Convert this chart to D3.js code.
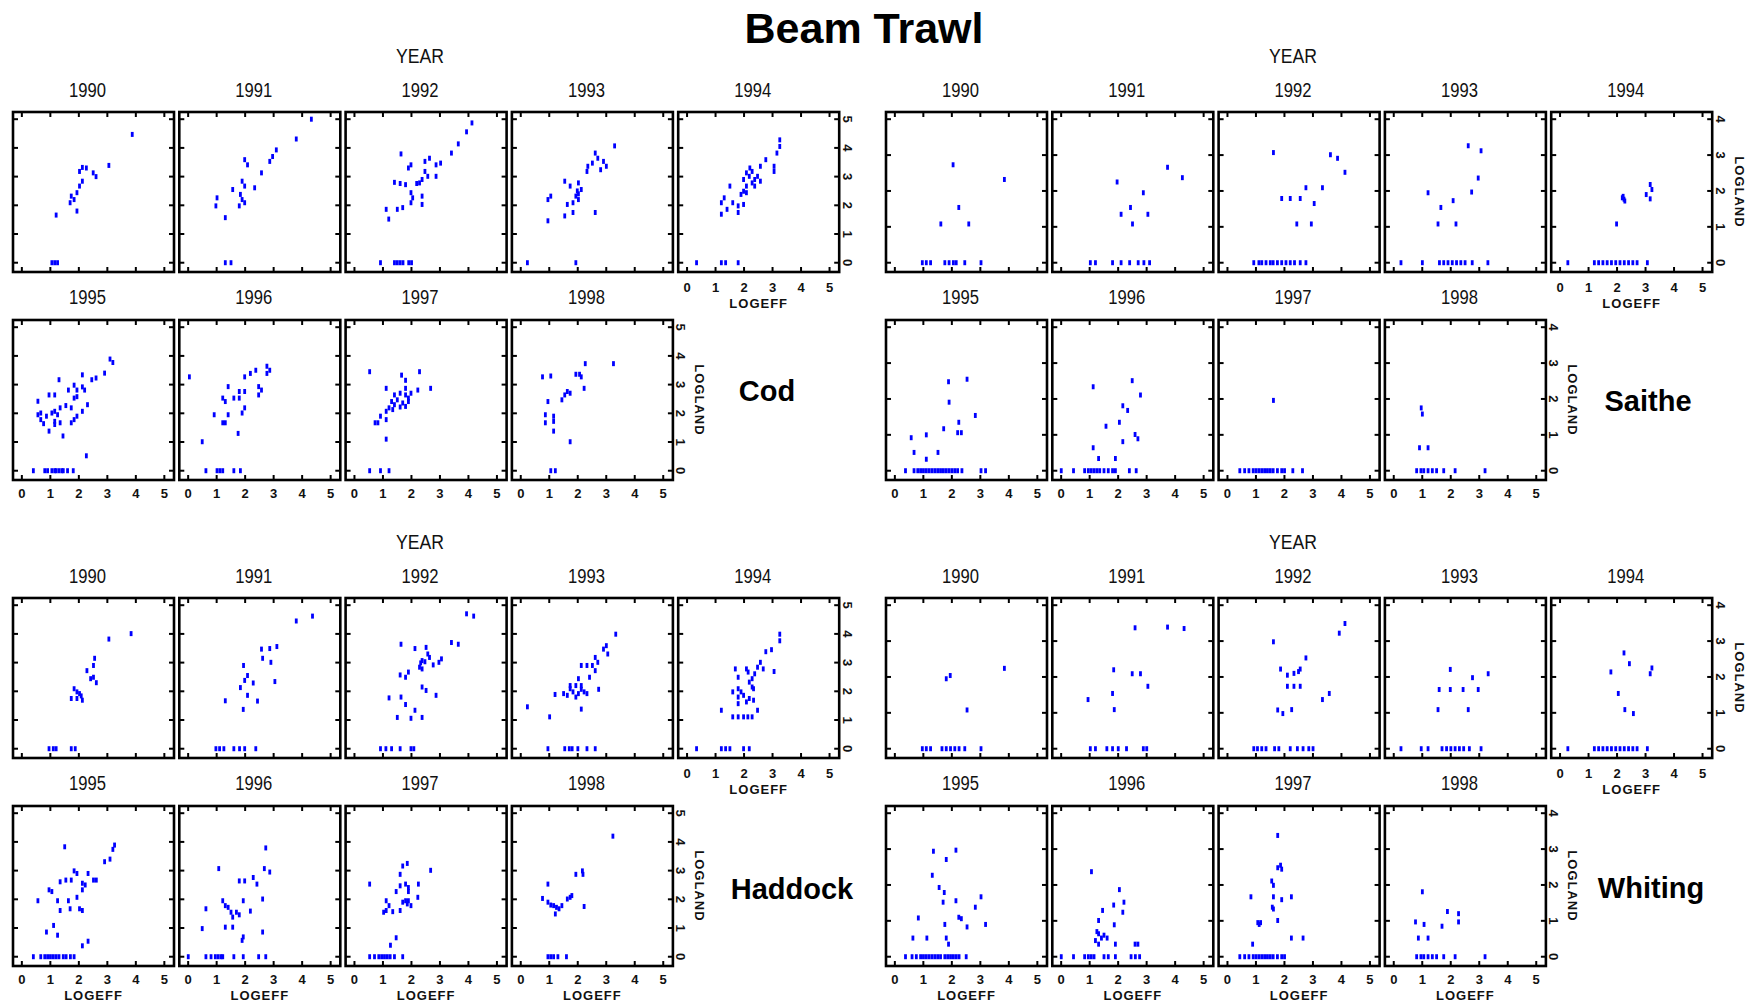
<!DOCTYPE html>
<html>
<head>
<meta charset="utf-8">
<script src="https://d3js.org/d3.v7.min.js"></script>
<style>
  body { margin: 0; background: #fff; }
  .sm { font-family: "Liberation Sans Narrow", "Arial Narrow", sans-serif; fill: #111; }
</style>
</head>
<body>
<script>
var width = 1755;
var height = 1004;

// years shown in the nine panels of each species block
var years = [1990, 1991, 1992, 1993, 1994, 1995, 1996, 1997, 1998];
var xTicks = [0, 1, 2, 3, 4, 5];
var yTicksBig = [0, 1, 2, 3, 4, 5];
var yTicksSmall = [0, 1, 2, 3, 4];

// [LOGEFF, LOGLAND] points, one list per year
var cod = [
  [[3.87,4.47],[3.05,3.39],[2.12,3.32],[2.26,3.3],[2.02,3.18],[2.5,3.13],[2.6,3.0],[2.12,2.84],[2.02,2.67],[1.73,2.32],[1.83,2.2],[1.93,2.44],[1.69,2.09],[1.93,1.8],[1.2,1.66],[1.05,0],[1.15,0],[1.25,0]],
  [[4.32,5.0],[3.79,4.31],[3.09,3.93],[2.96,3.7],[2.86,3.53],[1.98,3.59],[2.08,3.41],[2.57,3.13],[1.89,2.84],[1.98,2.67],[1.56,2.55],[1.83,2.38],[2.33,2.61],[1.89,2.2],[1.98,2.09],[1.79,1.98],[1.01,2.26],[0.97,1.98],[1.3,1.57],[1.3,0],[1.5,0]],
  [[4.12,4.87],[3.93,4.56],[3.64,4.14],[3.4,3.82],[1.63,3.79],[2.63,3.64],[2.47,3.53],[3.02,3.47],[2.86,3.41],[1.98,3.41],[1.89,3.3],[2.47,3.18],[2.57,3.01],[2.37,2.9],[2.28,2.78],[2.86,3.01],[1.4,2.8],[1.6,2.76],[1.79,2.72],[2.18,2.76],[1.98,2.44],[2.04,2.26],[2.37,2.32],[1.98,2.09],[2.37,2.03],[1.11,1.86],[1.5,1.86],[1.69,1.92],[1.2,1.52],[0.91,0],[1.4,0],[1.5,0],[1.6,0],[1.7,0],[1.9,0],[2.0,0]],
  [[3.29,4.07],[2.61,3.82],[2.7,3.64],[2.51,3.47],[2.35,3.36],[2.9,3.53],[3.0,3.36],[2.8,3.24],[2.32,3.18],[1.54,2.84],[1.73,2.67],[2.02,2.78],[2.12,2.55],[1.93,2.32],[2.02,2.2],[1.83,2.09],[1.63,2.03],[1.05,2.32],[0.95,2.2],[2.61,1.75],[1.83,1.75],[1.54,1.63],[0.95,1.46],[2.02,2.4],[1.98,2.5],[0.23,0],[1.93,0]],
  [[3.25,4.28],[3.25,4.05],[3.15,3.82],[2.76,3.59],[2.57,3.36],[3.05,3.36],[3.05,3.18],[2.08,3.13],[2.28,3.18],[2.18,3.01],[2.37,2.9],[1.98,2.9],[2.47,3.01],[2.28,2.78],[2.08,2.67],[2.57,2.84],[2.37,2.67],[1.5,2.67],[1.98,2.49],[1.89,2.38],[2.08,2.44],[1.3,2.26],[1.2,2.09],[1.6,2.09],[1.79,1.98],[1.4,1.86],[1.2,1.69],[1.79,1.75],[1.98,2.03],[2.2,3.3],[0.33,0],[1.2,0],[1.35,0],[1.79,0]],
  [[3.09,3.89],[3.19,3.77],[2.9,3.4],[2.6,3.23],[2.45,3.17],[2.12,3.34],[1.3,3.17],[1.83,2.98],[2.12,2.92],[2.2,2.81],[1.93,2.81],[1.63,2.81],[1.15,2.64],[0.95,2.64],[1.83,2.53],[1.93,2.58],[2.3,2.3],[1.54,2.27],[1.34,2.19],[1.73,2.19],[0.56,2.42],[1.15,2.07],[1.05,2.01],[0.66,2.01],[0.56,1.95],[0.86,1.9],[1.25,1.95],[2.12,2.07],[1.93,1.9],[0.66,1.78],[1.15,1.72],[1.34,1.67],[1.73,1.67],[1.83,1.78],[1.15,1.61],[0.76,1.64],[0.95,1.38],[1.44,1.21],[2.26,0.52],[0.4,0],[0.8,0],[0.9,0],[1.05,0],[1.15,0],[1.2,0],[1.3,0],[1.4,0],[1.45,0],[1.6,0],[1.8,0]],
  [[2.76,3.64],[2.86,3.5],[2.37,3.5],[2.18,3.39],[1.98,3.27],[2.76,3.39],[0.04,3.27],[1.4,2.93],[2.47,2.93],[2.57,2.81],[1.79,2.76],[1.98,2.76],[1.79,2.53],[2.47,2.64],[1.21,2.53],[1.3,2.41],[1.6,2.53],[1.98,2.19],[1.89,2.01],[0.91,1.95],[1.4,1.95],[1.21,1.67],[1.3,1.67],[1.75,1.3],[0.49,1.01],[0.62,0],[1.01,0],[1.11,0],[1.21,0],[1.6,0],[1.83,0]],
  [[0.53,3.45],[1.65,3.33],[1.79,3.15],[2.28,3.45],[2.22,2.81],[2.67,2.87],[1.11,2.87],[1.79,2.87],[1.4,2.64],[1.6,2.7],[1.79,2.64],[1.98,2.7],[1.89,2.53],[1.5,2.47],[1.3,2.41],[1.69,2.36],[1.89,2.41],[1.4,2.3],[1.6,2.22],[1.21,2.19],[1.34,2.13],[1.79,2.24],[1.11,2.07],[0.91,1.9],[1.11,1.78],[0.82,1.67],[0.72,1.67],[1.11,1.1],[0.53,0],[0.91,0],[1.21,0]],
  [[3.25,3.73],[2.26,3.73],[2.06,3.36],[2.12,3.27],[2.22,2.87],[1.93,3.36],[1.05,3.3],[0.76,3.27],[1.63,2.76],[1.54,2.64],[1.73,2.7],[1.44,2.47],[0.95,2.41],[0.86,1.95],[1.15,1.9],[1.15,1.72],[0.86,1.67],[1.15,1.38],[1.73,1.01],[1.05,0],[1.21,0]]
];

var saithe = [
  [[2.04,2.73],[3.84,2.32],[2.24,1.54],[1.61,1.08],[2.59,1.08],[0.96,0],[1.1,0],[1.25,0],[1.75,0],[1.9,0],[2.05,0],[2.15,0],[2.45,0],[3.02,0]],
  [[3.73,2.66],[4.25,2.37],[1.96,2.25],[2.88,1.95],[2.43,1.54],[2.1,1.35],[3.04,1.35],[2.5,1.08],[1.02,0],[1.2,0],[1.8,0],[2.1,0],[2.4,0],[2.7,0],[2.9,0],[3.1,0]],
  [[1.61,3.07],[3.61,3.01],[3.86,2.91],[4.12,2.52],[2.75,2.09],[3.33,2.09],[1.9,1.79],[2.2,1.79],[2.55,1.79],[3.04,1.65],[2.43,1.08],[2.94,1.08],[0.92,0],[1.1,0],[1.2,0],[1.35,0],[1.5,0],[1.6,0],[1.75,0],[1.9,0],[2.05,0],[2.2,0],[2.35,0],[2.55,0],[2.75,0]],
  [[2.61,3.26],[3.06,3.12],[2.96,2.36],[2.73,1.97],[1.2,1.95],[2.08,1.73],[1.65,1.54],[1.55,1.08],[2.18,1.08],[0.25,0],[1.0,0],[1.6,0],[1.75,0],[1.9,0],[2.05,0],[2.2,0],[2.35,0],[2.5,0],[2.75,0],[3.3,0]],
  [[3.16,2.18],[3.22,2.04],[3.02,1.9],[3.16,1.78],[2.24,1.77],[2.18,1.81],[2.27,1.72],[2.21,1.85],[1.98,1.08],[0.27,0],[1.2,0],[1.35,0],[1.5,0],[1.65,0],[1.8,0],[1.95,0],[2.1,0],[2.25,0],[2.4,0],[2.55,0],[2.7,0],[3.06,0]],
  [[1.88,2.48],[2.53,2.55],[1.9,1.91],[2.82,1.54],[2.24,1.35],[2.2,1.06],[2.33,1.06],[1.71,1.17],[0.57,0.92],[1.1,1.0],[0.67,0.51],[1.51,0.51],[1.1,0.32],[0.37,0],[0.67,0],[0.8,0],[0.9,0],[1.0,0],[1.1,0],[1.2,0],[1.3,0],[1.4,0],[1.5,0],[1.6,0],[1.7,0],[1.8,0],[1.9,0],[2.0,0],[2.1,0],[2.2,0],[2.35,0],[3.02,0],[3.18,0]],
  [[2.49,2.51],[1.12,2.34],[2.78,2.11],[2.16,1.81],[2.33,1.68],[2.04,1.35],[1.57,1.24],[2.59,1.01],[2.69,0.89],[2.16,0.81],[1.12,0.64],[1.31,0.34],[1.9,0.34],[0.0,0],[0.43,0],[0.82,0],[0.95,0],[1.05,0],[1.15,0],[1.25,0],[1.35,0],[1.5,0],[1.65,0],[1.8,0],[1.9,0],[2.39,0],[2.63,0]],
  [[1.61,1.96],[0.43,0],[0.6,0],[0.75,0],[0.9,0],[1.0,0],[1.1,0],[1.2,0],[1.3,0],[1.4,0],[1.5,0],[1.6,0],[1.75,0],[1.9,0],[2.0,0],[2.29,0],[2.63,0]],
  [[0.96,1.75],[1.0,1.58],[0.9,0.64],[1.2,0.64],[0.8,0],[0.95,0],[1.05,0],[1.2,0],[1.35,0],[1.5,0],[1.75,0],[2.15,0],[3.2,0]]
];

var haddock = [
  [[3.83,4.01],[3.05,3.82],[2.55,3.15],[2.51,2.9],[2.28,2.72],[2.41,2.44],[2.61,2.3],[2.51,2.49],[1.83,2.09],[1.93,1.98],[1.73,1.75],[2.02,1.92],[2.12,1.69],[1.93,1.75],[2.08,1.84],[0.95,0],[1.1,0],[1.2,0],[1.73,0],[1.87,0]],
  [[4.36,4.62],[3.79,4.45],[3.11,3.56],[2.86,3.49],[2.57,3.47],[2.61,3.15],[2.9,3.01],[3.04,2.34],[1.94,2.9],[2.08,2.55],[2.28,2.29],[1.98,2.38],[1.83,2.13],[2.08,1.86],[2.43,1.66],[1.93,1.37],[1.3,1.67],[0.97,0],[1.1,0],[1.25,0],[1.6,0],[1.8,0],[1.98,0],[2.37,0]],
  [[3.93,4.7],[4.18,4.62],[3.64,3.64],[3.4,3.7],[1.63,3.64],[2.12,3.49],[2.51,3.53],[2.57,3.3],[2.63,3.18],[2.37,3.07],[2.47,3.03],[2.32,2.99],[3.05,3.13],[2.96,3.01],[2.76,2.92],[2.37,2.78],[2.28,2.84],[1.89,2.67],[1.6,2.57],[1.79,2.49],[2.37,2.15],[2.51,2.03],[2.86,1.86],[1.21,1.77],[1.63,1.8],[1.79,1.54],[2.12,1.34],[1.98,1.06],[2.37,1.09],[1.5,1.09],[0.91,0],[1.1,0],[1.3,0],[1.6,0],[1.98,0],[2.08,0]],
  [[3.33,3.99],[3.0,3.59],[2.9,3.47],[3.05,3.3],[2.61,3.18],[2.7,3.01],[2.51,2.9],[2.32,2.9],[2.12,2.9],[2.61,2.72],[2.41,2.49],[2.02,2.44],[1.73,2.2],[1.93,2.2],[2.12,2.2],[1.73,2.09],[2.12,2.07],[1.83,1.98],[2.02,1.92],[2.22,1.98],[2.32,1.92],[1.63,1.86],[1.93,1.8],[2.73,2.07],[1.5,1.92],[1.2,1.89],[2.12,1.38],[1.01,1.11],[0.23,1.46],[0.95,0],[1.54,0],[1.7,0],[1.8,0],[2.0,0],[2.32,0],[2.61,0]],
  [[3.25,3.99],[3.25,3.76],[2.96,3.45],[2.76,3.38],[3.05,2.69],[2.57,3.01],[2.47,2.84],[2.67,2.78],[1.69,2.78],[2.08,2.78],[2.14,2.67],[2.37,2.61],[1.79,2.49],[2.28,2.44],[2.18,2.32],[2.28,2.15],[2.33,2.09],[1.79,2.09],[1.89,1.98],[1.6,1.98],[1.79,1.8],[1.98,1.86],[2.18,1.75],[2.33,1.69],[2.08,1.63],[1.79,1.57],[1.2,1.34],[1.6,1.11],[1.79,1.11],[1.98,1.11],[2.13,1.11],[2.28,1.11],[2.47,1.34],[0.33,0],[1.2,0],[1.35,0],[1.5,0],[1.98,0],[2.18,0]],
  [[3.25,3.89],[3.19,3.74],[3.09,3.4],[2.9,3.31],[1.5,3.83],[1.83,2.99],[1.93,2.9],[1.73,2.67],[1.54,2.67],[1.34,2.61],[1.05,2.27],[0.95,2.33],[2.32,2.9],[2.12,2.56],[2.22,2.5],[2.12,2.33],[2.51,2.67],[2.61,2.67],[0.56,1.95],[1.25,1.95],[1.34,1.61],[1.63,1.95],[1.69,1.67],[1.93,2.07],[2.02,1.67],[2.12,1.61],[1.11,1.09],[0.86,0.86],[1.25,0.75],[2.32,0.54],[2.12,0.38],[0.4,0],[0.66,0],[0.8,0],[0.9,0],[1.0,0],[1.1,0],[1.2,0],[1.3,0],[1.45,0],[1.55,0],[1.7,0],[1.83,0]],
  [[2.72,3.79],[2.67,3.07],[2.86,2.95],[1.07,3.07],[1.79,2.64],[1.98,2.64],[2.28,2.76],[2.41,2.53],[2.61,2.01],[1.93,1.95],[1.21,1.95],[0.62,1.67],[1.3,1.78],[1.4,1.72],[1.5,1.55],[1.69,1.55],[1.79,1.46],[1.56,1.38],[2.18,1.59],[0.49,0.98],[1.3,1.03],[1.56,1.03],[2.61,0.86],[1.93,0.69],[1.89,0.57],[0.0,0],[0.62,0],[0.8,0],[0.95,0],[1.05,0],[1.15,0],[1.21,0],[1.6,0],[1.93,0],[2.47,0],[2.72,0]],
  [[1.85,3.25],[1.69,3.16],[1.6,2.87],[2.67,3.01],[0.53,2.53],[1.79,2.53],[1.89,2.41],[1.6,2.47],[1.89,2.27],[2.24,2.53],[1.46,2.27],[2.22,2.07],[1.89,1.95],[1.79,1.95],[1.69,1.9],[1.85,1.84],[1.98,1.78],[1.11,1.95],[1.21,1.78],[1.11,1.61],[1.34,1.57],[1.02,1.55],[1.6,1.61],[1.46,0.66],[1.26,0.4],[0.53,0],[0.7,0],[0.85,0],[0.95,0],[1.05,0],[1.15,0],[1.25,0],[1.4,0],[1.69,0]],
  [[3.23,4.2],[2.16,2.99],[1.93,2.87],[2.18,2.87],[0.95,2.53],[1.79,2.13],[1.63,2.01],[1.73,2.07],[0.76,2.03],[0.95,1.9],[1.05,1.8],[1.15,1.78],[1.25,1.72],[1.34,1.67],[1.44,1.78],[1.21,1.49],[2.22,1.75],[0.95,0],[1.05,0],[1.15,0],[1.3,0],[1.6,0]]
];

var whiting = [
  [[1.8,1.95],[1.94,2.04],[3.84,2.24],[2.53,1.08],[0.96,0],[1.1,0],[1.25,0],[1.65,0],[1.8,0],[1.95,0],[2.1,0],[2.25,0],[2.45,0],[3.02,0]],
  [[2.59,3.37],[3.73,3.39],[4.31,3.35],[1.84,2.2],[2.49,2.09],[2.78,2.09],[3.04,1.74],[1.8,1.54],[0.94,1.37],[1.86,1.09],[1.02,0],[1.2,0],[1.6,0],[1.8,0],[2.0,0],[2.29,0],[2.88,0],[3.0,0]],
  [[4.12,3.49],[3.92,3.22],[1.61,2.98],[2.75,2.53],[1.86,2.22],[2.1,2.05],[2.49,2.15],[2.33,2.1],[2.55,2.22],[2.1,1.74],[2.33,1.74],[2.55,1.74],[3.57,1.54],[3.33,1.37],[1.76,1.08],[1.94,0.98],[2.25,1.09],[0.92,0],[1.05,0],[1.2,0],[1.35,0],[1.65,0],[1.8,0],[2.2,0],[2.45,0],[2.65,0],[2.85,0],[3.0,0]],
  [[1.98,2.21],[2.76,1.98],[3.31,2.09],[1.59,1.65],[1.98,1.65],[2.43,1.65],[2.96,1.65],[1.55,1.09],[2.61,1.09],[0.25,0],[0.96,0],[1.2,0],[1.69,0],[1.85,0],[2.0,0],[2.15,0],[2.3,0],[2.45,0],[2.65,0],[3.06,0]],
  [[2.24,2.67],[2.43,2.37],[1.78,2.14],[3.22,2.25],[3.16,2.09],[2.04,1.54],[2.27,1.09],[2.57,0.98],[0.27,0],[1.2,0],[1.35,0],[1.5,0],[1.65,0],[1.8,0],[1.95,0],[2.1,0],[2.25,0],[2.4,0],[2.55,0],[2.7,0],[3.06,0]],
  [[1.35,2.94],[2.14,2.97],[1.8,2.71],[1.31,2.27],[1.55,1.93],[1.73,1.79],[1.69,1.52],[2.14,1.56],[3.02,1.67],[2.82,1.38],[2.24,1.1],[2.33,1.06],[2.53,0.83],[3.18,0.9],[0.82,1.08],[1.75,0.9],[0.63,0.52],[1.12,0.52],[1.8,0.52],[1.88,0.35],[0.37,0],[0.6,0],[0.75,0],[0.9,0],[1.0,0],[1.1,0],[1.2,0],[1.3,0],[1.4,0],[1.5,0],[1.6,0],[1.75,0],[1.85,0],[1.95,0],[2.05,0],[2.15,0],[2.25,0],[2.5,0]],
  [[1.06,2.37],[2.04,1.87],[2.2,1.52],[1.84,1.44],[2.16,1.24],[1.45,1.29],[1.31,1.01],[1.86,0.89],[1.25,0.7],[1.31,0.64],[1.41,0.52],[1.61,0.52],[1.5,0.6],[1.2,0.45],[2.59,0.35],[2.69,0.35],[1.31,0.35],[1.9,0.35],[0.0,0],[0.43,0],[0.82,0],[0.95,0],[1.05,0],[1.15,0],[1.5,0],[1.65,0],[1.9,0],[2.45,0],[2.6,0],[2.75,0]],
  [[1.76,3.38],[1.86,2.55],[1.76,2.48],[1.9,2.44],[1.55,2.11],[1.61,1.99],[0.82,1.67],[1.61,1.67],[1.9,1.59],[2.24,1.67],[1.57,1.38],[1.61,1.33],[1.76,1.01],[1.06,0.95],[1.16,0.95],[1.11,0.9],[2.24,0.52],[2.65,0.52],[0.88,0.35],[0.43,0],[0.6,0],[0.75,0],[0.9,0],[1.0,0],[1.1,0],[1.2,0],[1.3,0],[1.4,0],[1.5,0],[1.6,0],[1.75,0],[1.9,0],[2.0,0]],
  [[1.0,1.81],[1.88,1.26],[2.27,1.2],[2.27,0.97],[0.76,0.97],[1.06,0.9],[1.69,0.85],[0.86,0.52],[1.2,0.52],[0.8,0],[0.95,0],[1.05,0],[1.2,0],[1.35,0],[1.5,0],[1.75,0],[2.15,0],[3.2,0]]
];

// panel geometry (pixels)
var pitch = 166.3;
var panelW = 161;
var panelH = 160;
var rowGap = 208;

var blocks = [
  {name: "Cod", data: cod, yTicks: yTicksBig, gx: 13, gy: 112, lx: 767, ly: 391, topLogland: false, bottomLogeff: false},
  {name: "Saithe", data: saithe, yTicks: yTicksSmall, gx: 886, gy: 112, lx: 1648, ly: 401, topLogland: true, bottomLogeff: false},
  {name: "Haddock", data: haddock, yTicks: yTicksBig, gx: 13, gy: 598, lx: 792, ly: 889, topLogland: false, bottomLogeff: true},
  {name: "Whiting", data: whiting, yTicks: yTicksSmall, gx: 886, gy: 598, lx: 1651, ly: 888, topLogland: true, bottomLogeff: true}
];

var svg = d3.select("body").append("svg")
  .attr("width", width)
  .attr("height", height);

svg.append("text")
  .attr("x", 864).attr("y", 28)
  .attr("text-anchor", "middle")
  .attr("dominant-baseline", "central")
  .style("font-family", "'Liberation Sans', Arial, sans-serif")
  .style("font-weight", "bold")
  .style("font-size", "43px")
  .text("Beam Trawl");

blocks.forEach(function(b) {
  var g = svg.append("g");
  var yMax = b.yTicks[b.yTicks.length - 1];

  // YEAR heading over middle column
  g.append("text").attr("class", "sm")
    .attr("x", b.gx + 2 * pitch + panelW / 2 - 6).attr("y", b.gy - 56)
    .attr("text-anchor", "middle").attr("dominant-baseline", "central")
    .attr("textLength", 48).attr("lengthAdjust", "spacingAndGlyphs")
    .style("font-size", "20px")
    .text("YEAR");

  // species name
  g.append("text")
    .attr("x", b.lx).attr("y", b.ly)
    .attr("text-anchor", "middle").attr("dominant-baseline", "central")
    .style("font-family", "'Liberation Sans', Arial, sans-serif")
    .style("font-weight", "bold").style("font-size", "29px")
    .text(b.name);

  years.forEach(function(year, i) {
    var row = i < 5 ? 0 : 1;
    var col = i < 5 ? i : i - 5;
    var px = b.gx + col * pitch;
    var py = b.gy + row * rowGap;

    var x = d3.scaleLinear().domain([0, 5]).range([px + 0.055 * panelW, px + 0.94 * panelW]);
    var y = d3.scaleLinear().domain([0, yMax]).range([py + 0.942 * panelH, py + 0.045 * panelH]);

    var p = g.append("g");

    // year label
    p.append("text").attr("class", "sm")
      .attr("x", px + panelW / 2 - 6).attr("y", row === 0 ? py - 22 : py - 23)
      .attr("text-anchor", "middle").attr("dominant-baseline", "central")
      .attr("textLength", 37).attr("lengthAdjust", "spacingAndGlyphs")
      .style("font-size", "20px")
      .text(year);

    // frame
    p.append("rect")
      .attr("x", px).attr("y", py)
      .attr("width", panelW).attr("height", panelH)
      .attr("fill", "none").attr("stroke", "#000").attr("stroke-width", 2.6);

    // inward ticks on all four sides
    var tl = 5;
    xTicks.forEach(function(t) {
      p.append("line").attr("x1", x(t)).attr("x2", x(t)).attr("y1", py).attr("y2", py + tl)
        .attr("stroke", "#000").attr("stroke-width", 2);
      p.append("line").attr("x1", x(t)).attr("x2", x(t)).attr("y1", py + panelH).attr("y2", py + panelH - tl)
        .attr("stroke", "#000").attr("stroke-width", 2);
    });
    b.yTicks.forEach(function(t) {
      p.append("line").attr("x1", px).attr("x2", px + tl).attr("y1", y(t)).attr("y2", y(t))
        .attr("stroke", "#000").attr("stroke-width", 2);
      p.append("line").attr("x1", px + panelW).attr("x2", px + panelW - tl).attr("y1", y(t)).attr("y2", y(t))
        .attr("stroke", "#000").attr("stroke-width", 2);
    });

    // points
    p.selectAll("rect.pt")
      .data(b.data[i])
      .enter().append("rect")
      .attr("class", "pt")
      .attr("x", function(d) { return x(d[0]) - 1.3; })
      .attr("y", function(d) { return y(d[1]) - 2.5; })
      .attr("width", 2.8).attr("height", 5)
      .attr("fill", "#0000ff");

    // x tick labels: under 1994 and under the whole bottom row
    var showX = (i === 4) || row === 1;
    if (showX) {
      var ty = row === 0 ? py + panelH + 15 : py + panelH + 13;
      xTicks.forEach(function(t) {
        p.append("text").attr("class", "sm")
          .attr("x", x(t)).attr("y", ty)
          .attr("text-anchor", "middle").attr("dominant-baseline", "central")
          .style("font-size", "13px").style("font-weight", "bold")
          .text(t);
      });
      if (i === 4 || b.bottomLogeff) {
        p.append("text").attr("class", "sm")
          .attr("x", px + panelW / 2).attr("y", ty + 16)
          .attr("text-anchor", "middle").attr("dominant-baseline", "central")
          .style("font-size", "13px").style("font-weight", "bold")
          .style("letter-spacing", "1px")
          .text("LOGEFF");
      }
    }

    // y tick labels and LOGLAND at right of last panel in each row
    if (i === 4 || i === 8) {
      b.yTicks.forEach(function(t) {
        p.append("text").attr("class", "sm")
          .attr("transform", "translate(" + (px + panelW + 8) + "," + y(t) + ") rotate(90)")
          .attr("text-anchor", "middle").attr("dominant-baseline", "central")
          .style("font-size", "13px").style("font-weight", "bold")
          .text(t);
      });
      if (i === 8 || b.topLogland) {
        p.append("text").attr("class", "sm")
          .attr("transform", "translate(" + (px + panelW + 27) + "," + (py + panelH / 2) + ") rotate(90)")
          .attr("text-anchor", "middle").attr("dominant-baseline", "central")
          .style("font-size", "13px").style("font-weight", "bold")
          .style("letter-spacing", "1px")
          .text("LOGLAND");
      }
    }
  });
});
</script>
</body>
</html>
